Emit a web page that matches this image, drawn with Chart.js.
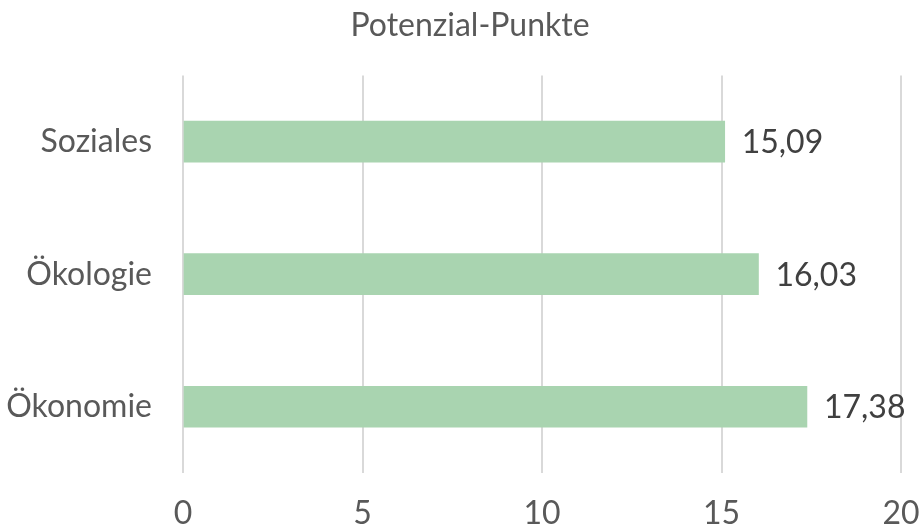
<!DOCTYPE html>
<html lang="de">
<head>
  <meta charset="UTF-8">
  <title>Potenzial-Punkte</title>
  <style>
    body {
      margin: 0;
      padding: 0;
      background: #fff;
    }
    .wrap {
      width: 922px;
      height: 529px;
    }
  </style>
</head>
<body>
  <div class="wrap"><canvas id="chart" width="922" height="529"></canvas></div>

  <script src="https://cdn.jsdelivr.net/npm/chart.js"></script>
  <script>
    const categories = ['Soziales', 'Ökologie', 'Ökonomie'];
    const punkte = [15.09, 16.03, 17.38];
    const xTicks = [0, 5, 10, 15, 20];

    // values next to the bar end, with german decimal comma
    const valueLabels = {
      id: 'valueLabels',
      afterLayout(chart) {
        // title sits a bit right of the canvas centre in the original
        if (chart.titleBlock) chart.titleBlock.left = 18;
      },
      afterDatasetsDraw(chart) {
        const ctx = chart.ctx;
        const meta = chart.getDatasetMeta(0);
        ctx.save();
        ctx.font = '32px Lato';
        ctx.fillStyle = '#404040';
        ctx.textAlign = 'left';
        ctx.textBaseline = 'middle';
        meta.data.forEach((bar, i) => {
          const txt = punkte[i].toFixed(2).replace('.', ',');
          ctx.fillText(txt, bar.x + 17, bar.y + 1);
        });
        ctx.restore();
      }
    };

    new Chart(document.getElementById('chart').getContext('2d'), {
      type: 'bar',
      data: {
        labels: categories,
        datasets: [{
          data: punkte,
          backgroundColor: '#a9d4b0',
          barThickness: 41
        }]
      },
      options: {
        indexAxis: 'y',
        responsive: false,
        animation: false,
        layout: { padding: 0 },
        plugins: {
          legend: { display: false },
          tooltip: { enabled: false },
          title: {
            display: true,
            text: 'Potenzial-Punkte',
            color: '#595959',
            font: { family: 'Lato', size: 32, weight: 'normal' },
            padding: { top: 6, bottom: 31 }
          }
        },
        scales: {
          x: {
            min: 0,
            max: 20,
            afterBuildTicks(scale) {
              scale.ticks = xTicks.map(v => ({ value: v }));
            },
            afterFit(scale) {
              scale.height = 56;
              scale.paddingLeft = 0;
              scale.paddingRight = 21;
            },
            grid: { color: '#d9d9d9', lineWidth: 2, drawTicks: false },
            border: { display: false },
            ticks: {
              color: '#595959',
              padding: 21,
              font: { family: 'Lato', size: 32 }
            }
          },
          y: {
            afterFit(scale) { scale.width = 183; },
            grid: { display: false, drawTicks: false },
            border: { display: false },
            ticks: {
              color: '#595959',
              padding: 31,
              font: { family: 'Lato', size: 32 }
            }
          }
        }
      },
      plugins: [valueLabels]
    });
  </script>
</body>
</html>
